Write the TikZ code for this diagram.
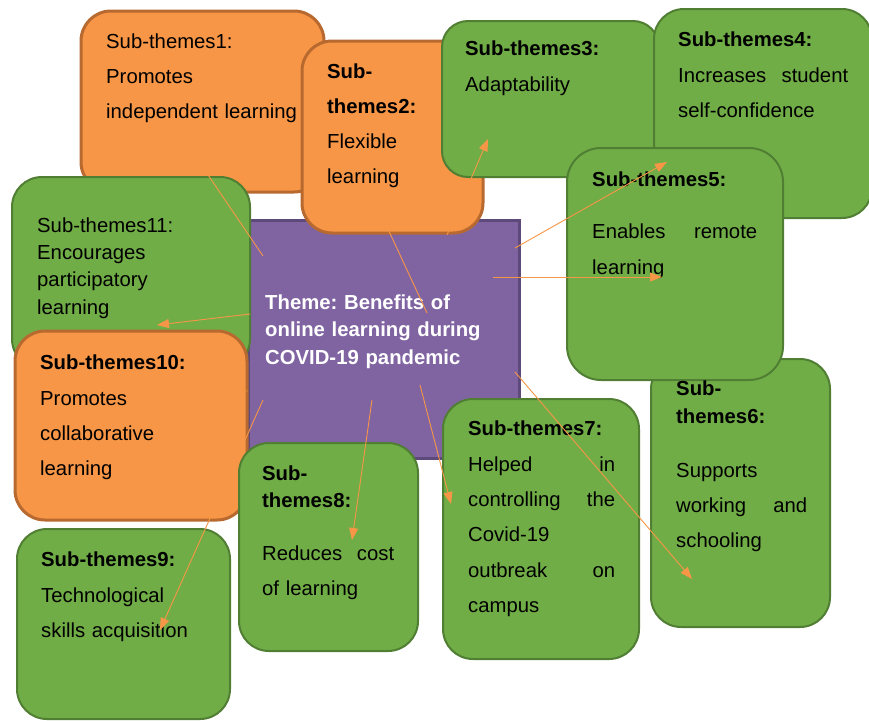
\documentclass[tikz,border=0pt]{standalone}
\usepackage{fontspec}
\setmainfont{Liberation Sans}
\usetikzlibrary{arrows.meta}
\frenchspacing
\definecolor{orfill}{HTML}{F79646}
\definecolor{ordraw}{HTML}{B7692F}
\definecolor{grfill}{HTML}{70AD47}
\definecolor{grdraw}{HTML}{507E32}
\definecolor{pufill}{HTML}{8064A2}
\definecolor{pudraw}{HTML}{5E4A7A}
\definecolor{arr}{HTML}{F79646}
\tikzset{
  obox/.style={draw=ordraw, fill=orfill, line width=3pt, rounded corners=30pt, anchor=north west, inner sep=0pt, outer sep=0pt},
  gbox/.style={draw=grdraw, fill=grfill, line width=2pt, rounded corners=30pt, anchor=north west, inner sep=0pt, outer sep=0pt},
  pbox/.style={draw=pudraw, fill=pufill, line width=3pt, anchor=north west, inner sep=0pt, outer sep=0pt},
  txt/.style={anchor=base west, inner sep=0pt, align=left, text width=#1, font=\fontsize{20.3}{35}\selectfont\frenchspacing},
  txt/.default=260pt,
  conn/.style={draw=arr, line width=0.9pt, -{Triangle[length=12pt,width=9pt]}}
}
\begin{document}
\begin{tikzpicture}[x=1pt,y=-1pt]
\useasboundingbox (0,0) rectangle (869,720);
% theme
\node[pbox, minimum width=271pt, minimum height=238pt] (theme) at (248,220) {};
% box 1
\node[obox, minimum width=243pt, minimum height=181pt] (b1) at (81,11) {};
% box 2
\node[obox, minimum width=181pt, minimum height=192pt] (b2) at (302,41) {};
% box 3
\node[gbox, rounded corners=26pt, minimum width=217pt, minimum height=156pt] (b3) at (442,21) {};
% box 4
\node[gbox, minimum width=218pt, minimum height=209pt] (b4) at (654,9) {};
% box 6
\node[gbox, minimum width=179pt, minimum height=268pt] (b6) at (651,359) {};
% box 5
\node[gbox, rounded corners=34pt, minimum width=216pt, minimum height=232pt] (b5) at (567,148) {};
% box 11
\node[gbox, minimum width=238pt, minimum height=192pt] (b11) at (12,177) {};
% box 10
\node[obox, minimum width=232pt, minimum height=189pt] (b10) at (15,331) {};
% box 9
\node[gbox, minimum width=213pt, minimum height=190pt] (b9) at (17,529) {};
% box 8
\node[gbox, minimum width=179pt, minimum height=208pt] (b8) at (239,443) {};
% box 7
\node[gbox, minimum width=196pt, minimum height=260pt] (b7) at (443,399) {};

% texts
\node[txt] (t1) at (106,48) {Sub-themes1:\\Promotes\\independent learning};
\node[txt] (t2) at (327,78) {\textbf{Sub-}\\\textbf{themes2:}\\Flexible\\learning};
\node[txt] (t3) at (465,55) {\textbf{Sub-themes3:}\\[1pt]Adaptability};
\node[txt=170pt] (t4) at (678,46.5) {\textbf{Sub-themes4:}\\[1pt]Increases\hfill student\\self-confidence};
\node[txt=165pt] (t5) at (592,186) {\textbf{Sub-themes5:}\\[17pt]Enables\hfill remote\\[1pt]learning};
\node[txt=131pt] (t6) at (676,395) {\textbf{Sub-}\\[-7pt]\textbf{themes6:}\\[19pt]Supports\\working\hfill and\\schooling};
\node[txt=147pt] (t7) at (468,435) {\textbf{Sub-themes7:}\\[1pt]Helped\hfill in\\controlling\hfill the\\Covid-19\\[1pt]outbreak\hfill on\\campus};
\node[txt=132pt] (t8) at (262,480) {\textbf{Sub-}\\[-8pt]\textbf{themes8:}\\[18pt]Reduces\hfill cost\\of learning};
\node[txt] (t9) at (41,566) {\textbf{Sub-themes9:}\\[1pt]Technological\\skills acquisition};
\node[txt] (t10) at (40,369) {\textbf{Sub-themes10:}\\[1pt]Promotes\\collaborative\\learning};
\node[txt, font=\fontsize{20.3}{27.4}\selectfont\frenchspacing] (t11) at (37,232) {Sub-themes11:\\Encourages\\participatory\\learning};
\node[txt, font=\fontsize{20.3}{27.5}\selectfont\bfseries\frenchspacing, text=white] (tt) at (265,309) {Theme: Benefits of\\online learning during\\COVID-19 pandemic};

% connector end points
\coordinate (s1) at (263,256); \coordinate (e1) at (183,138);
\coordinate (s2) at (427,313); \coordinate (e2) at (374,199);
\coordinate (s3) at (447,235); \coordinate (e3) at (488,139);
\coordinate (s4) at (515,248); \coordinate (e4) at (667,162);
\coordinate (s5) at (493,277); \coordinate (e5) at (662,277);
\coordinate (s6) at (515,372); \coordinate (e6) at (692,579);
\coordinate (s7) at (420,385); \coordinate (e7) at (451,504);
\coordinate (s8) at (372,400); \coordinate (e8) at (352,540);
\coordinate (s9) at (263,400); \coordinate (e9) at (160,630);
\coordinate (s10) at (248,390); \coordinate (e10) at (168,452);
\coordinate (s11) at (250,314); \coordinate (e11) at (157,325);

\draw[conn] (s1) -- (e1);
\draw[conn] (s2) -- (e2);
\draw[conn] (s3) -- (e3);
\draw[conn] (s4) -- (e4);
\draw[conn] (s5) -- (e5);
\draw[conn] (s6) -- (e6);
\draw[conn] (s7) -- (e7);
\draw[conn] (s8) -- (e8);
\draw[conn] (s9) -- (e9);
\draw[conn, opacity=0.5] (s10) -- (e10);
\draw[conn] (s11) -- (e11);
\end{tikzpicture}
\end{document}
